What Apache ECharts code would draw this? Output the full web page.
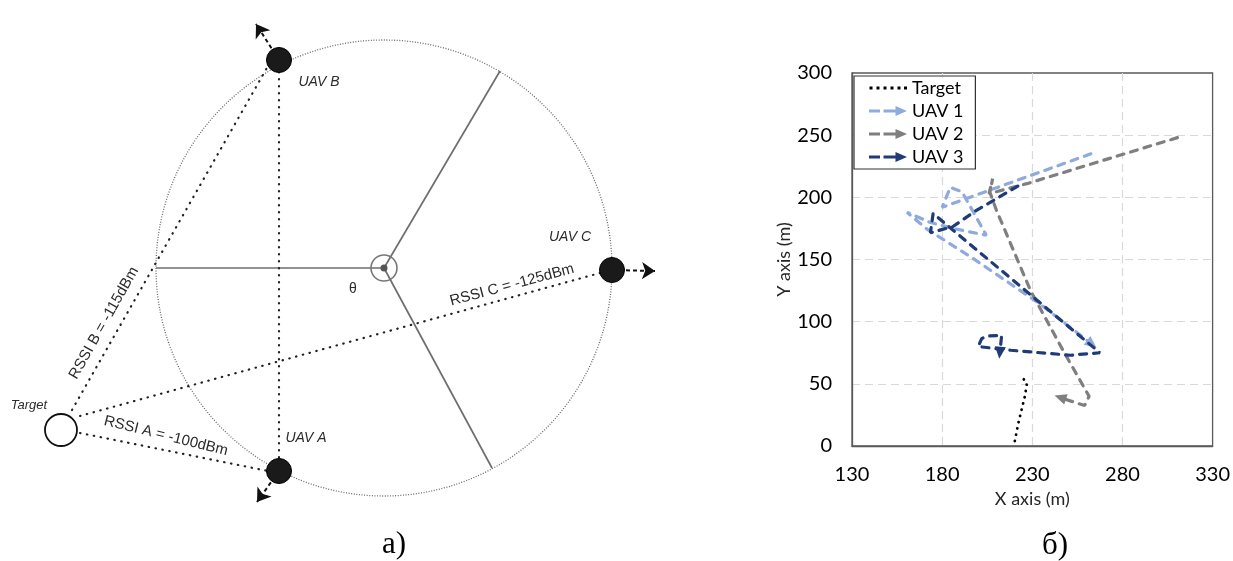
<!DOCTYPE html>
<html>
<head>
<meta charset="utf-8">
<script src="https://cdn.jsdelivr.net/npm/echarts@6/dist/echarts.min.js"></script>
<style>
html, body { margin: 0; padding: 0; background: #fff; }
#main { width: 1233px; height: 561px; }
</style>
</head>
<body>
<div id="main"></div>
<script>
// ---- panel б): trajectories, metres ----
const xTicks = [130, 180, 230, 280, 330]
const yTicks = [0, 50, 100, 150, 200, 250, 300]
const trackNames = ['Target', 'UAV 1', 'UAV 2', 'UAV 3']
const targetTrack = [[220.3, 4], [222.2, 18], [224.2, 30], [226, 40.8], [227, 50.7], [224.2, 55.5]]
const uav1Track = [[262.5, 235], [180, 192], [184.5, 208], [191, 204.5], [204.5, 169.5], [186, 175], [173, 180],
  [160.5, 188], [172, 174], [197, 151], [234, 114.5], [263, 82]]
const uav2Track = [[310.5, 248], [227, 211], [206, 203], [208, 215], [206.5, 204], [210, 190], [229, 125],
  [247, 77], [261.5, 40], [259, 32.5], [245.5, 39]]
const uav3Track = [[222, 209], [199, 189.5], [186, 176.5], [173.5, 171.5], [175, 187], [267.5, 75], [251, 73],
  [218, 77], [200, 80], [202, 86.5], [205.5, 88.5], [213, 89], [212, 75]]

// ---- panel а): sketch, in sketch pixels ----
const ringCenter = [384, 268]
const ringRadius = 228
const spokeEnds = [[156, 268], [500, 71], [492, 468]]
const uavNames = ['UAV A', 'UAV B', 'UAV C']
const uavPos = [[279, 471], [279, 60], [612, 270]]
const uavHeading = [[257, 502], [256, 24], [655, 271]]
const uavLabelPos = [[306, 438], [319, 82], [570, 237]]
const targetPos = [61, 430]
const targetLabelPos = [29, 405]
const baseLine = [[279, 72], [279, 460]]
const rssiText = ['RSSI A = -100dBm', 'RSSI B = -115dBm', 'RSSI C = -125dBm']
const rssiLinks = [[[80, 433], [268, 471]], [[72, 410], [268, 66]], [[80, 416], [600, 273]]]
const rssiLabelPos = [[166, 436], [104, 323], [512, 285]]
const rssiLabelAngle = [-14, 60.5, 15]
const thetaPos = [353, 289]

const trackColors = ['#000000', '#8FAADC', '#7F7F7F', '#1F3C78']
const tracks = [targetTrack, uav1Track, uav2Track, uav3Track]

const chart = echarts.init(document.getElementById('main'))

const dots = 'path://M0,0h0.05v0.05h-0.05z M37.95,9.95h0.05v0.05h-0.05z M0.5,3.5h3v3h-3z M7.5,3.5h3v3h-3z M14.5,3.5h3v3h-3z M21.5,3.5h3v3h-3z M28.5,3.5h3v3h-3z M35,3.5h3v3h-3z'
const dashArrow = 'path://M0,3.5h11v3h-11z M14.5,3.5h12v3h-12z M26.5,0L38,5L26.5,10z'

const sketch = { xAxisIndex: 0, yAxisIndex: 0, silent: true }
const plot = { xAxisIndex: 1, yAxisIndex: 1, silent: true }

const trackSeries = tracks.map((d, i) => {
  const s = {
    ...plot,
    name: trackNames[i],
    type: 'line',
    data: d,
    symbol: 'none',
    z: 3 + i,
    itemStyle: { color: trackColors[i] },
    lineStyle: i === 0
      ? { color: trackColors[i], width: 2.8, type: [0.1, 6.3], cap: 'round' }
      : { color: trackColors[i], width: 3.2, type: [7, 7], cap: 'round' },
  }
  if (i > 0) {
    s.markLine = {
      silent: true,
      symbol: ['none', 'triangle'],
      symbolSize: [11, 12],
      label: { show: false },
      lineStyle: { color: trackColors[i], width: 0, type: 'solid' },
      data: [[{ coord: d[d.length - 2] }, { coord: d[d.length - 1] }]],
    }
  }
  return s
})

const textItems = [
  ...uavNames.map((n, i) => ({ name: n, value: uavLabelPos[i], label: { fontStyle: 'italic' } })),
  { name: 'Target', value: targetLabelPos, label: { fontStyle: 'italic', fontSize: 13 } },
  ...rssiText.map((t, i) => ({ name: t, value: rssiLabelPos[i], label: { rotate: rssiLabelAngle[i], fontSize: 15 } })),
  { name: 'θ', value: thetaPos },
]

const tickFont = { fontFamily: 'Lato', fontSize: 20, color: '#000' }
const nameFont = { fontFamily: 'Lato', fontSize: 18, color: '#262626' }
const gridLine = { showMinLine: false, showMaxLine: false, lineStyle: { color: '#d9d9d9', type: [8, 5], width: 1.2 } }
const frame = { onZero: false, lineStyle: { color: '#595959', width: 1.3 } }

const option = {
  animation: false,
  backgroundColor: '#fff',
  title: [
    { text: 'а)', left: 394, top: 545, padding: 0, textAlign: 'center', textVerticalAlign: 'middle',
      textStyle: { fontFamily: 'Liberation Serif', fontSize: 31, fontWeight: 'normal', color: '#000' } },
    { text: 'б)', left: 1055, top: 546, padding: 0, textAlign: 'center', textVerticalAlign: 'middle',
      textStyle: { fontFamily: 'Liberation Serif', fontSize: 31, fontWeight: 'normal', color: '#000' } },
  ],
  legend: {
    orient: 'vertical',
    left: 854,
    top: 76,
    padding: [3, 12, 3, 15],
    itemGap: 5,
    itemWidth: 38,
    itemHeight: 10,
    selectedMode: false,
    backgroundColor: '#fff',
    borderColor: '#333',
    borderWidth: 1.2,
    itemStyle: { borderWidth: 0 },
    textStyle: { fontFamily: 'Lato', fontSize: 18, lineHeight: 18, color: '#000' },
    data: trackNames.map((n, i) => ({ name: n, icon: i === 0 ? dots : dashArrow })),
  },
  grid: [
    { left: 0, top: 0, width: 700, height: 561, show: false },
    { left: 852, top: 73, width: 361, height: 373, show: true, borderColor: '#595959', borderWidth: 1.3 },
  ],
  xAxis: [
    { gridIndex: 0, type: 'value', min: 0, max: 700, show: false },
    {
      gridIndex: 1, type: 'value',
      min: xTicks[0], max: xTicks[xTicks.length - 1], interval: xTicks[1] - xTicks[0],
      name: 'X axis (m)', nameLocation: 'middle', nameGap: 44, nameTextStyle: nameFont,
      axisLine: frame, axisTick: { show: false },
      axisLabel: { margin: 19, ...tickFont },
      splitLine: gridLine,
    },
  ],
  yAxis: [
    { gridIndex: 0, type: 'value', min: 0, max: 561, inverse: true, show: false },
    {
      gridIndex: 1, type: 'value',
      min: yTicks[0], max: yTicks[yTicks.length - 1], interval: yTicks[1] - yTicks[0],
      name: 'Y axis (m)', nameLocation: 'middle', nameGap: 58, nameTextStyle: nameFont,
      axisLine: frame, axisTick: { show: false },
      axisLabel: { margin: 20, ...tickFont },
      splitLine: gridLine,
    },
  ],
  series: [
    // sketch: ring, spokes, hub
    {
      ...sketch, name: 'ring', type: 'scatter', z: 1,
      data: [ringCenter], symbolSize: ringRadius * 2,
      itemStyle: { color: 'rgba(0,0,0,0)', borderColor: '#6a6a6a', borderWidth: 1.3, borderType: [1, 1.6], opacity: 1 },
    },
    {
      ...sketch, name: 'spokes', type: 'lines', coordinateSystem: 'cartesian2d', z: 2,
      data: spokeEnds.map(e => ({ coords: [ringCenter, e] })),
      lineStyle: { color: '#6e6e6e', width: 1.7, opacity: 1, curveness: 0 },
    },
    {
      ...sketch, name: 'rssi', type: 'lines', coordinateSystem: 'cartesian2d', z: 2,
      data: [...rssiLinks, baseLine].map(c => ({ coords: c })),
      lineStyle: { color: '#222', width: 2.2, type: [0.5, 6.5], cap: 'round', opacity: 1, curveness: 0 },
    },
    {
      ...sketch, name: 'heading', type: 'lines', coordinateSystem: 'cartesian2d', z: 2,
      data: uavPos.map((p, i) => ({ coords: [p, uavHeading[i]] })),
      symbol: ['none', 'arrow'], symbolSize: 13,
      lineStyle: { color: '#111', width: 2, type: [4, 3], opacity: 1, curveness: 0 },
    },
    {
      ...sketch, name: 'hub', type: 'scatter', z: 3,
      data: [ringCenter], symbolSize: 26,
      itemStyle: { color: 'rgba(0,0,0,0)', borderColor: '#777', borderWidth: 1.6, opacity: 1 },
    },
    {
      ...sketch, name: 'hubDot', type: 'scatter', z: 3,
      data: [ringCenter], symbolSize: 7,
      itemStyle: { color: '#555', opacity: 1 },
    },
    {
      ...sketch, name: 'uavs', type: 'scatter', z: 4,
      data: uavPos, symbolSize: 25,
      itemStyle: { color: '#1a1a1a', borderColor: '#000', borderWidth: 1, opacity: 1 },
    },
    {
      ...sketch, name: 'target', type: 'scatter', z: 4,
      data: [targetPos], symbolSize: 32,
      itemStyle: { color: '#fff', borderColor: '#111', borderWidth: 1.8, opacity: 1 },
    },
    {
      ...sketch, name: 'texts', type: 'scatter', z: 5,
      data: textItems, symbolSize: 1,
      itemStyle: { color: 'rgba(0,0,0,0)', opacity: 1 },
      label: {
        show: true, position: 'inside', formatter: '{b}',
        fontFamily: 'Liberation Sans', fontSize: 14, color: '#2b2b2b',
      },
    },
    // trajectories
    ...trackSeries,
  ],
}

chart.setOption(option)
</script>
</body>
</html>
